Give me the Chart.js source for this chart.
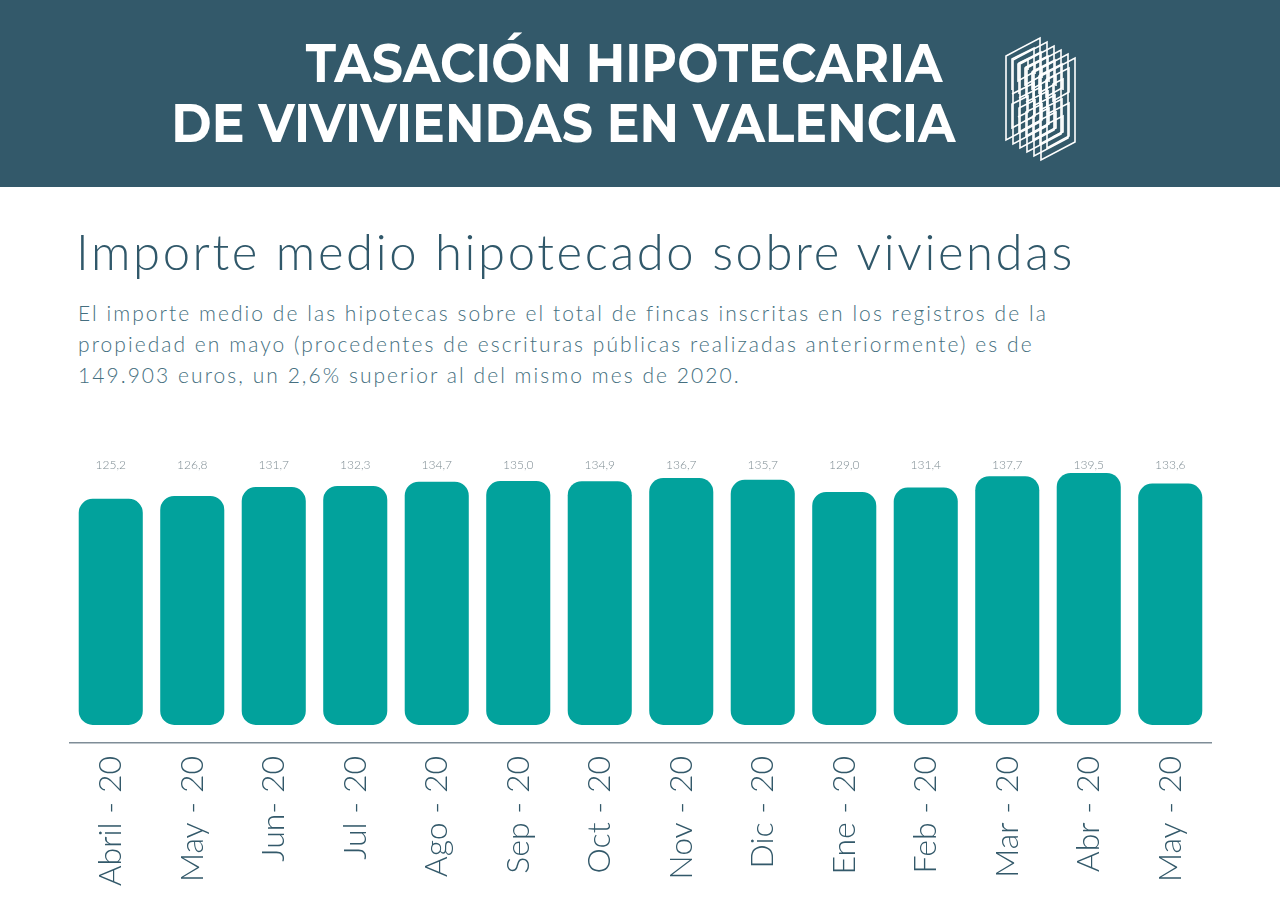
<!DOCTYPE html>
<html>
<head>
<meta charset="utf-8">
<script src="https://cdn.jsdelivr.net/npm/chart.js@4/dist/chart.umd.min.js"></script>
<style>
  html, body { margin:0; padding:0; width:1280px; height:923px; background:#ffffff; overflow:hidden; }
  #header { position:absolute; left:0; top:0; width:1280px; height:187px; background:#33596a; }
  .t { position:absolute; color:#ffffff; font-family:"Montserrat","Inter","Open Sans",sans-serif; font-weight:700; font-size:54px; white-space:nowrap; line-height:1; transform-origin:100% 50%; transform:scaleX(0.905); }
  #t1 { right:338px; top:36px; }
  #t2 { right:325px; top:96px; }
  #logo { position:absolute; left:1002px; top:32px; }
  #sub { position:absolute; left:76px; top:222px; font-family:"Lato","Noto Sans",sans-serif; font-weight:300; font-size:49px; color:#30586a; white-space:nowrap; letter-spacing:2.6px; }
  #para { position:absolute; left:78px; top:297px; font-family:"Lato","Noto Sans",sans-serif; font-weight:300; font-size:21px; line-height:31px; color:#456f80; white-space:nowrap; letter-spacing:2.05px; }
  #wrap { position:absolute; left:0; top:0; width:1280px; height:923px; }
</style>
</head>
<body>
<div id="header">
  <div class="t" id="t1">TASACIÓN HIPOTECARIA</div>
  <div class="t" id="t2">DE VIVIVIENDAS EN VALENCIA</div>
  <svg id="logo" width="90" height="130" viewBox="0 0 90 130">
    <g fill="none" stroke="#ffffff" stroke-width="1.6" stroke-linejoin="miter">
      <g id="lay">
        <path d="M4 24 L38 6 L38 90 L4 108 Z"/>
        <path d="M10 58 L10 27 L32 16 L32 40 L16 49 L16 32 L26 27 L26 38"/>
        <path d="M10 62 L32 51 L32 84 L10 96 L10 72 L26 64 L26 80 L16 85"/>
      </g>
      <use href="#lay" transform="translate(7,4)"/>
      <use href="#lay" transform="translate(14,8)"/>
      <use href="#lay" transform="translate(21,12)"/>
      <use href="#lay" transform="translate(28,16)"/>
      <use href="#lay" transform="translate(35,20)"/>
    </g>
  </svg>
</div>
<div id="sub">Importe medio hipotecado sobre viviendas</div>
<div id="para">El importe medio de las hipotecas sobre el total de fincas inscritas en los registros de la<br>propiedad en mayo (procedentes de escrituras públicas realizadas anteriormente) es de<br>149.903 euros, un 2,6% superior al del mismo mes de 2020.</div>
<div id="wrap"><canvas id="c" width="1280" height="923"></canvas></div>
<script>
const categories = ["Abril - 20","May - 20","Jun- 20","Jul - 20","Ago - 20","Sep - 20","Oct - 20","Nov - 20","Dic - 20","Ene - 20","Feb - 20","Mar - 20","Abr - 20","May - 20"];
const values = [125.2,126.8,131.7,132.3,134.7,135.0,134.9,136.7,135.7,129.0,131.4,137.7,139.5,133.6];
const valueLabels = ["125,2","126,8","131,7","132,3","134,7","135,0","134,9","136,7","135,7","129,0","131,4","137,7","139,5","133,6"];

const valueLabelPlugin = {
  id: 'valueLabels',
  afterDatasetsDraw(chart) {
    const ctx = chart.ctx;
    const meta = chart.getDatasetMeta(0);
    ctx.save();
    ctx.font = '300 12px Lato, "Noto Sans", sans-serif';
    ctx.fillStyle = '#7d8b92';
    ctx.textAlign = 'center';
    ctx.textBaseline = 'middle';
    meta.data.forEach((bar, i) => {
      ctx.fillText(valueLabels[i], bar.x, 465);
    });
    ctx.restore();
  }
};

new Chart(document.getElementById('c'), {
  type: 'bar',
  data: {
    labels: categories,
    datasets: [{
      data: values,
      base: 0,
      backgroundColor: '#02a29c',
      borderRadius: 14,
      borderSkipped: false,
      categoryPercentage: 1.0,
      barPercentage: 0.786
    }]
  },
  options: {
    responsive: false,
    animation: false,
    events: [],
    layout: { padding: { top: 454, left: 70, right: 69, bottom: 0 } },
    plugins: { legend: { display: false }, tooltip: { enabled: false } },
    scales: {
      y: { display: false, min: -10, max: 150 },
      x: {
        afterFit(scale) { scale.height = 180; },
        grid: { display: false, drawTicks: false },
        border: { display: true, color: '#7f8d97', width: 1.5 },
        ticks: {
          autoSkip: false,
          maxRotation: 90,
          minRotation: 90,
          padding: 13,
          color: '#33596a',
          font: { family: 'Lato, "Noto Sans", sans-serif', weight: '300', size: 32 }
        }
      }
    }
  },
  plugins: [valueLabelPlugin]
});
</script>
</body>
</html>
